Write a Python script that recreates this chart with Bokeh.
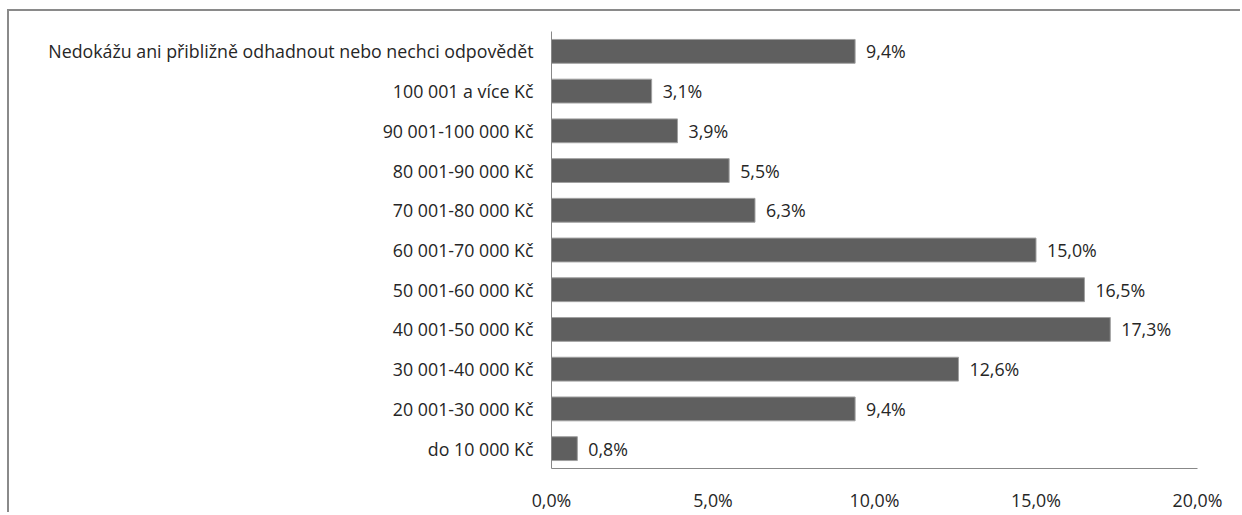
from bokeh.plotting import figure
from bokeh.models import ColumnDataSource, FactorRange, Range1d, LabelSet, FixedTicker
from bokeh.core.properties import value
from bokeh.embed import file_html
from bokeh.resources import INLINE

categories = [
    "do 10 000 Kč",
    "20 001-30 000 Kč",
    "30 001-40 000 Kč",
    "40 001-50 000 Kč",
    "50 001-60 000 Kč",
    "60 001-70 000 Kč",
    "70 001-80 000 Kč",
    "80 001-90 000 Kč",
    "90 001-100 000 Kč",
    "100 001 a více Kč",
    "Nedokážu ani přibližně odhadnout nebo nechci odpovědět",
]
values = [0.8, 9.4, 12.6, 17.3, 16.5, 15.0, 6.3, 5.5, 3.9, 3.1, 9.4]
value_labels = [("%.1f" % v).replace(".", ",") + "%" for v in values]
tick_values = [0, 5, 10, 15, 20]
tick_labels = ["0,0%", "5,0%", "10,0%", "15,0%", "20,0%"]

FONT = "Open Sans"
FONT_SIZE = "17.8px"
TEXT_COLOR = "#262626"

src = ColumnDataSource(dict(cat=categories, val=values, lab=value_labels))

p = figure(
    width=1233, height=503,
    y_range=FactorRange(factors=categories),
    x_range=Range1d(0, 20),
    output_backend="svg", toolbar_location=None,
    min_border_left=542, min_border_right=45,
    min_border_top=20, min_border_bottom=42,
)
p.styles = {"border-top": "2px solid #8a8a8a", "border-left": "2px solid #8a8a8a",
            "margin-left": "7px", "margin-top": "9px"}
p.outline_line_color = None
p.background_fill_color = "white"
p.border_fill_color = "white"

p.hbar(y="cat", right="val", left=0, height=0.6, source=src,
       fill_color="#5f5f5f", line_color="#a0a0a0", line_width=1)

labels = LabelSet(x="val", y="cat", text="lab", source=src, x_offset=11,
                  text_align="left", text_baseline="middle",
                  text_font=value(FONT), text_font_size=FONT_SIZE, text_color=TEXT_COLOR)
p.add_layout(labels)

p.xgrid.grid_line_color = None
p.ygrid.grid_line_color = None

p.xaxis.ticker = FixedTicker(ticks=tick_values)
p.xaxis.major_label_overrides = {t: l for t, l in zip(tick_values, tick_labels)}
p.xaxis.major_tick_line_color = None
p.xaxis.minor_tick_line_color = None
p.xaxis.major_tick_out = 0
p.xaxis.major_tick_in = 0
p.xaxis.major_label_standoff = 19
p.xaxis.axis_line_color = "#888888"
p.xaxis.major_label_text_font = FONT
p.xaxis.major_label_text_font_size = FONT_SIZE
p.xaxis.major_label_text_color = TEXT_COLOR

p.yaxis.major_tick_line_color = None
p.yaxis.minor_tick_line_color = None
p.yaxis.major_tick_out = 0
p.yaxis.major_tick_in = 0
p.yaxis.major_label_standoff = 18
p.yaxis.axis_line_color = "#888888"
p.yaxis.major_label_text_font = FONT
p.yaxis.major_label_text_font_size = FONT_SIZE
p.yaxis.major_label_text_color = TEXT_COLOR

open("out.html", "w").write(file_html(p, INLINE))
